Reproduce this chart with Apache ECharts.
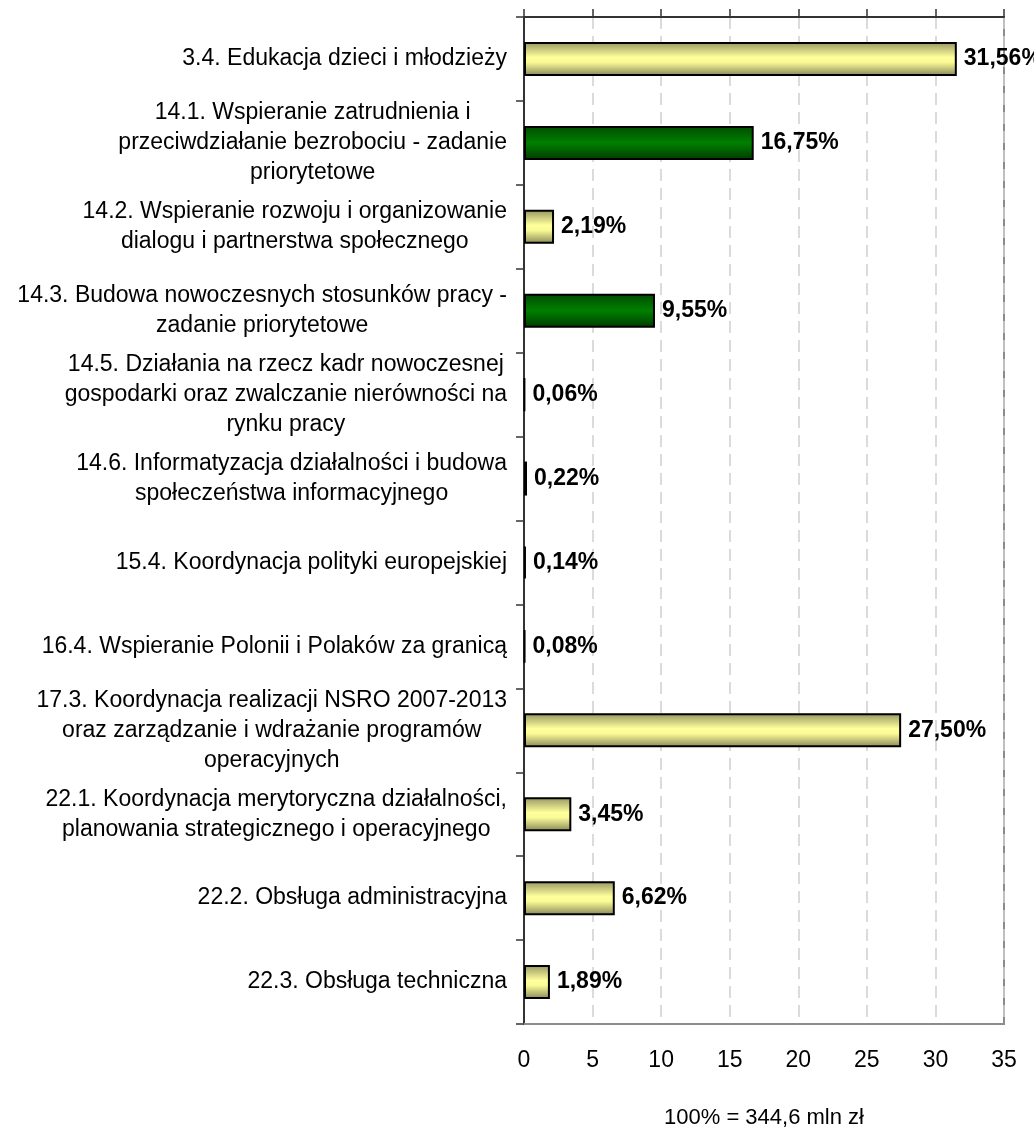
<!DOCTYPE html>
<html>
<head>
<meta charset="utf-8">
<title>Wydatki wg zadań</title>
<script src="https://cdn.jsdelivr.net/npm/echarts@6/dist/echarts.min.js"></script>
<style>
    html, body {margin: 0; padding: 0; background: #fff;}
    #chart {width: 1034px; height: 1136px;}
</style>
</head>
<body>
<div id="chart"></div>
<script>
// zadania (kategorie osi Y)
var categories = [
    "3.4. Edukacja dzieci i młodzieży",
    "14.1. Wspieranie zatrudnienia i\nprzeciwdziałanie bezrobociu - zadanie\npriorytetowe",
    "14.2. Wspieranie rozwoju i organizowanie\ndialogu i partnerstwa społecznego",
    "14.3. Budowa nowoczesnych stosunków pracy -\nzadanie priorytetowe",
    "14.5. Działania na rzecz kadr nowoczesnej\ngospodarki oraz zwalczanie nierówności na\nrynku pracy",
    "14.6. Informatyzacja działalności i budowa\nspołeczeństwa informacyjnego",
    "15.4. Koordynacja polityki europejskiej",
    "16.4. Wspieranie Polonii i Polaków za granicą",
    "17.3. Koordynacja realizacji NSRO 2007-2013\noraz zarządzanie i wdrażanie programów\noperacyjnych",
    "22.1. Koordynacja merytoryczna działalności,\nplanowania strategicznego i operacyjnego",
    "22.2. Obsługa administracyjna",
    "22.3. Obsługa techniczna"
];
// udział w %
var shares = [31.56, 16.75, 2.19, 9.55, 0.06, 0.22, 0.14, 0.08, 27.50, 3.45, 6.62, 1.89];
// zadania priorytetowe
var priorityTask = [false, true, false, true, false, false, false, false, false, false, false, false];
var xTicks = [0, 5, 10, 15, 20, 25, 30, 35];
var footNote = "100% = 344,6 mln zł";

var FONT = "'Liberation Sans', Arial, sans-serif";

var yellowFill = new echarts.graphic.LinearGradient(0, 0, 0, 1, [
    {offset: 0, color: '#949462'},
    {offset: 0.45, color: '#ffff9c'},
    {offset: 0.6, color: '#fafa96'},
    {offset: 1, color: '#86865a'}
]);
var greenFill = new echarts.graphic.LinearGradient(0, 0, 0, 1, [
    {offset: 0, color: '#004a00'},
    {offset: 0.5, color: '#008000'},
    {offset: 1, color: '#003a00'}
]);

var barData = [];
for (var i = 0; i < shares.length; i++) {
    barData.push({
        value: shares[i],
        itemStyle: {color: priorityTask[i] ? greenFill : yellowFill}
    });
}

var chart = echarts.init(document.getElementById('chart'), null, {renderer: 'canvas'});
var xMin = xTicks[0], xMax = xTicks[xTicks.length - 1], xStep = xTicks[1] - xTicks[0];

chart.setOption({
    backgroundColor: '#fff',
    animation: false,
    textStyle: {fontFamily: FONT},
    grid: {
        left: 524, right: 30, top: 17, bottom: 112,
        show: true, borderColor: '#8c8c8c', borderWidth: 2, backgroundColor: 'transparent'
    },
    xAxis: [{
        type: 'value', position: 'bottom',
        min: xMin, max: xMax, interval: xStep,
        axisLine: {show: true, lineStyle: {color: '#8c8c8c', width: 2}},
        axisTick: {show: false},
        axisLabel: {margin: 25, fontSize: 23, color: '#000', fontFamily: FONT},
        splitLine: {show: true, lineStyle: {color: '#d0d0d0', width: 1.5, type: [12, 7]}},
        name: footNote, nameLocation: 'middle', nameGap: 83,
        nameTextStyle: {fontSize: 22, color: '#000', fontFamily: FONT}
    }, {
        type: 'value', position: 'top',
        min: xMin, max: xMax, interval: xStep,
        axisLine: {show: true, lineStyle: {color: '#333', width: 2}},
        axisTick: {show: true, length: 8, lineStyle: {color: '#333', width: 1.5}},
        axisLabel: {show: false},
        splitLine: {show: false}
    }],
    yAxis: {
        type: 'category',
        data: categories,
        inverse: true,
        axisLine: {show: true, lineStyle: {color: '#333', width: 2}},
        axisTick: {show: true, length: 8, lineStyle: {color: '#333', width: 1.5}},
        axisLabel: {
            margin: 17,
            interval: 0,
            formatter: function (v) {
                return v.split('\n').map(function (l) { return '{c|' + l + '}'; }).join('\n');
            },
            rich: {
                c: {align: 'center', fontSize: 23, lineHeight: 30, color: '#000', fontFamily: FONT}
            }
        },
        splitLine: {show: false}
    },
    series: [{
        type: 'bar',
        xAxisIndex: 0,
        data: barData,
        barWidth: 34,
        itemStyle: {borderColor: '#000', borderWidth: 2},
        label: {
            show: true, position: 'right', distance: 7,
            fontSize: 23, fontWeight: 'bold', color: '#000', fontFamily: FONT,
            formatter: function (p) { return p.value.toFixed(2).replace('.', ',') + '%'; }
        }
    }]
});
</script>
</body>
</html>
